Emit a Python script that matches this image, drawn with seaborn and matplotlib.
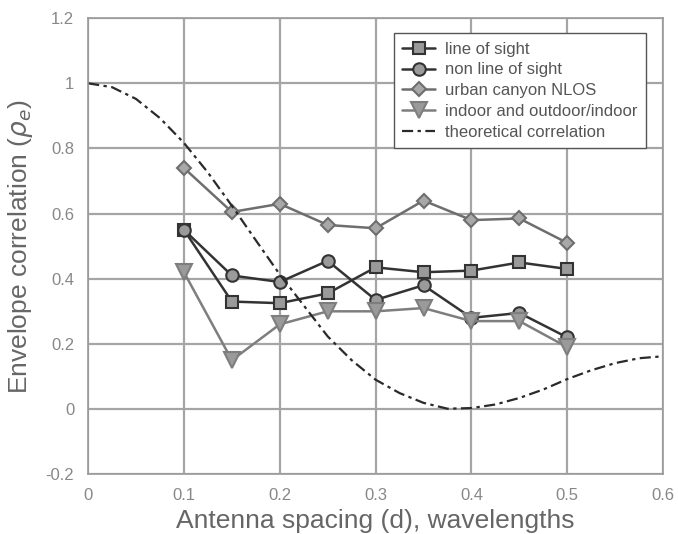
import matplotlib
matplotlib.use("Agg")
import matplotlib.pyplot as plt
import seaborn as sns
import pandas as pd

spacing = [0.1, 0.15, 0.2, 0.25, 0.3, 0.35, 0.4, 0.45, 0.5]
line_of_sight = [0.55, 0.33, 0.325, 0.355, 0.435, 0.42, 0.425, 0.45, 0.43]
non_line_of_sight = [0.55, 0.41, 0.39, 0.455, 0.335, 0.38, 0.28, 0.295, 0.22]
urban_canyon = [0.74, 0.605, 0.63, 0.565, 0.555, 0.64, 0.58, 0.585, 0.51]
indoor_outdoor = [0.42, 0.15, 0.26, 0.30, 0.30, 0.31, 0.27, 0.27, 0.19]

theory_d = [0.0, 0.025, 0.05, 0.075, 0.1, 0.125, 0.15, 0.175, 0.2, 0.225, 0.25,
            0.275, 0.3, 0.325, 0.35, 0.375, 0.4, 0.425, 0.45, 0.475, 0.5,
            0.525, 0.55, 0.575, 0.6]
theory_rho = [1.0, 0.988, 0.952, 0.893, 0.817, 0.726, 0.624, 0.518, 0.413, 0.318, 0.223,
              0.15, 0.09, 0.049, 0.019, 0.001, 0.003, 0.014, 0.034, 0.06, 0.092,
              0.119, 0.141, 0.156, 0.162]

x_ticks = [0, 0.1, 0.2, 0.3, 0.4, 0.5, 0.6]
y_ticks = [-0.2, 0, 0.2, 0.4, 0.6, 0.8, 1.0, 1.2]

sns.set_theme(style="whitegrid")
plt.rcParams['font.family'] = ['Liberation Sans', 'DejaVu Sans']

fig = plt.figure(figsize=(6.78, 5.34), dpi=100)
ax = fig.add_axes([0.13, 0.112, 0.848, 0.854])

series = [
    ("line of sight", line_of_sight, "s", "#333333", "#9a9a9a", 9),
    ("non line of sight", non_line_of_sight, "o", "#333333", "#9a9a9a", 9),
    ("urban canyon NLOS", urban_canyon, "D", "#6e6e6e", "#a8a8a8", 7),
    ("indoor and outdoor/indoor", indoor_outdoor, "v", "#7e7e7e", "#9a9a9a", 11),
]
for name, vals, mk, lc, fc, ms in series:
    df = pd.DataFrame({"d": spacing, "rho": vals})
    sns.lineplot(data=df, x="d", y="rho", ax=ax, color=lc, linewidth=1.8,
                 marker=mk, markersize=ms, markerfacecolor=fc,
                 markeredgecolor=lc, markeredgewidth=1.5, label=name)

dft = pd.DataFrame({"d": theory_d, "rho": theory_rho})
sns.lineplot(data=dft, x="d", y="rho", ax=ax, color="#2a2a2a", linewidth=1.6,
             linestyle=(0, (5, 2, 1.5, 2)), label="theoretical correlation")

ax.set_xlim(0, 0.6)
ax.set_ylim(-0.2, 1.2)
ax.set_xticks(x_ticks)
ax.set_xticklabels(["0", "0.1", "0.2", "0.3", "0.4", "0.5", "0.6"])
ax.set_yticks(y_ticks)
ax.set_yticklabels(["-0.2", "0", "0.2", "0.4", "0.6", "0.8", "1", "1.2"])
ax.tick_params(axis="both", labelsize=12, labelcolor="#888888", pad=4)
ax.grid(True, color="#a5a5a5", linewidth=1.6)
for s in ax.spines.values():
    s.set_visible(True)
    s.set_color("#999999")
    s.set_linewidth(1.2)

ax.set_xlabel("Antenna spacing (d), wavelengths", fontsize=19, color="#666666", labelpad=4)
ax.set_ylabel(r"Envelope correlation ($\rho_e$)", fontsize=19, color="#666666", labelpad=8)

leg = ax.legend(loc="upper right", fontsize=12, frameon=True, fancybox=False,
                edgecolor="#555555", framealpha=1, handlelength=2.0,
                borderpad=0.5, labelspacing=0.35, handletextpad=0.6,
                bbox_to_anchor=(0.985, 0.985))
for t in leg.get_texts():
    t.set_color("#555555")

fig.savefig("out.png", dpi=100)
